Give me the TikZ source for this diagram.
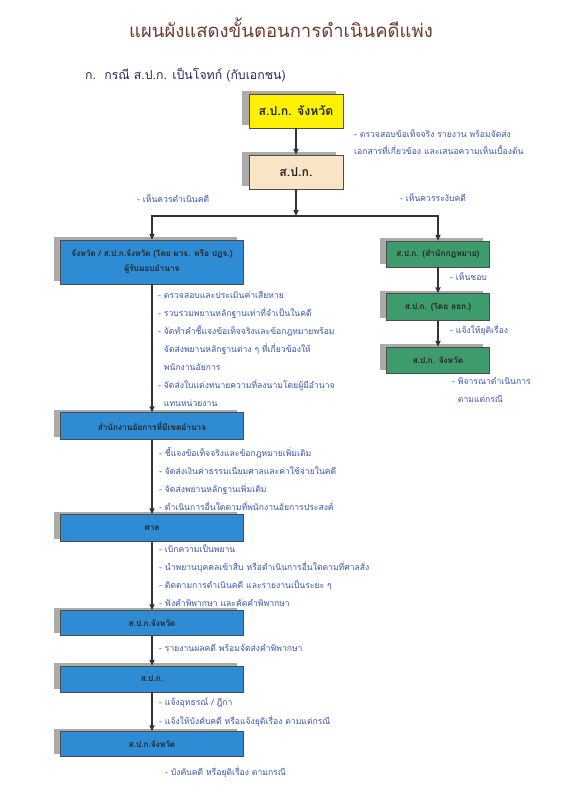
\documentclass[tikz,border=0pt]{standalone}
\usepackage{fontspec}
\newfontfamily\thai[Script=Thai]{Loma}
\usetikzlibrary{arrows.meta,shadows}

\definecolor{boxblue}{RGB}{45,140,212}
\definecolor{boxgreen}{RGB}{62,156,108}
\definecolor{boxbeige}{RGB}{250,228,198}
\definecolor{notetext}{RGB}{55,85,178}
\definecolor{titlebrown}{RGB}{112,58,48}
\definecolor{subnavy}{RGB}{38,38,105}

\begin{document}
\begin{tikzpicture}[
  x=1pt,y=1pt,
  font=\thai,
  box/.style={draw=black!70,fill=boxblue,text=black!85,
    minimum width=183pt,minimum height=27pt,inner sep=2pt,align=center,
    font=\thai\bfseries\fontsize{8.3}{15}\selectfont,
    drop shadow={shadow xshift=-7pt,shadow yshift=3pt,opacity=1,fill=black!33}},
  greenbox/.style={box,fill=boxgreen,minimum width=103pt,minimum height=26pt},
  topbox/.style={box,minimum width=94pt,minimum height=34pt,
    font=\thai\bfseries\fontsize{12.3}{14}\selectfont},
  note/.style={anchor=north west,inner sep=0pt,align=left,text=notetext,
    font=\thai\fontsize{8.6}{18}\selectfont},
  arr/.style={-{Triangle[length=6pt,width=5pt]},line width=1.5pt,draw=black!80}
]
\useasboundingbox (0,0) rectangle (572,-790);

% heading
\node[text=titlebrown,font=\thai\fontsize{18.5}{22}\selectfont] (title) at (281,-28)
  {แผนผังแสดงขั้นตอนการดำเนินคดีแพ่ง};
\node[anchor=west,inner sep=0pt,text=subnavy,font=\thai\fontsize{12.3}{14}\selectfont]
  (case) at (85,-75) {ก.\ \ กรณี ส.ป.ก. เป็นโจทก์ (กับเอกชน)};

% top of the chart
\node[topbox,fill=yellow] (prov) at (296,-111) {ส.ป.ก. จังหวัด};
\node[topbox,fill=boxbeige] (alro) at (296,-172) {ส.ป.ก.};
\node[note] (n1) at (354,-129)
  {- ตรวจสอบข้อเท็จจริง รายงาน พร้อมจัดส่ง\\[-1pt]
   เอกสารที่เกี่ยวข้อง และเสนอความเห็นเบื้องต้น};
\coordinate (split) at (296,-216);
\node[note] (sue) at (137,-194) {- เห็นควรดำเนินคดี};
\node[note] (stop) at (400,-193) {- เห็นควรระงับคดี};

% left branch
\node[box,minimum height=44pt] (agent) at (152,-262)
  {จังหวัด / ส.ป.ก.จังหวัด (โดย ผวจ. หรือ ปฏจ.)\\ผู้รับมอบอำนาจ};
\node[note] (n2) at (158,-291)
  {- ตรวจสอบและประเมินค่าเสียหาย\\
   - รวบรวมพยานหลักฐานเท่าที่จำเป็นในคดี\\
   - จัดทำคำชี้แจงข้อเท็จจริงและข้อกฎหมายพร้อม\\
   \phantom{- }จัดส่งพยานหลักฐานต่าง ๆ ที่เกี่ยวข้องให้\\
   \phantom{- }พนักงานอัยการ\\
   - จัดส่งใบแต่งทนายความที่ลงนามโดยผู้มีอำนาจ\\
   \phantom{- }แทนหน่วยงาน};
\node[box] (attorney) at (152,-426) {สำนักงานอัยการที่มีเขตอำนาจ};
\node[note] (n3) at (159,-447)
  {- ชี้แจงข้อเท็จจริงและข้อกฎหมายเพิ่มเติม\\
   - จัดส่งเงินค่าธรรมเนียมศาลและค่าใช้จ่ายในคดี\\
   - จัดส่งพยานหลักฐานเพิ่มเติม\\
   - ดำเนินการอื่นใดตามที่พนักงานอัยการประสงค์};
\node[box] (court) at (152,-528) {ศาล};
\node[note] (n4) at (159,-544)
  {- เบิกความเป็นพยาน\\
   - นำพยานบุคคลเข้าสืบ หรือดำเนินการอื่นใดตามที่ศาลสั่ง\\
   - ติดตามการดำเนินคดี และรายงานเป็นระยะ ๆ\\
   - ฟังคำพิพากษา และคัดคำพิพากษา};
\node[box,minimum height=25pt] (provA) at (152,-623) {ส.ป.ก.จังหวัด};
\node[note] (n5) at (159,-644) {- รายงานผลคดี พร้อมจัดส่งคำพิพากษา};
\node[box,minimum height=26pt] (alroB) at (152,-679) {ส.ป.ก.};
\node[note] (n6) at (159,-698)
  {- แจ้งอุทธรณ์ / ฎีกา\\[1pt]
   - แจ้งให้บังคับคดี หรือแจ้งยุติเรื่อง ตามแต่กรณี};
\node[box,minimum height=25pt] (provB) at (152,-744) {ส.ป.ก.จังหวัด};
\node[note] (n7) at (165,-766) {- บังคับคดี หรือยุติเรื่อง ตามกรณี};

% right branch
\node[greenbox] (legal) at (438,-254) {ส.ป.ก. (สำนักกฎหมาย)};
\node[note] (g1) at (450,-272) {- เห็นชอบ};
\node[greenbox,minimum height=27pt] (sec) at (438,-307) {ส.ป.ก. (โดย ลธก.)};
\node[note] (g2) at (450,-324) {- แจ้งให้ยุติเรื่อง};
\node[greenbox] (provC) at (438,-360) {ส.ป.ก. จังหวัด};
\node[note] (g3) at (452,-377) {- พิจารณาดำเนินการ\\\phantom{- }ตามแต่กรณี};

% connectors
\draw[arr] (prov) -- (alro);
\draw[arr] (alro) -- (split);
\draw[arr] (split) -| (agent);
\draw[arr] (split) -| (legal);
\draw[arr] (agent) -- (attorney);
\draw[arr] (attorney) -- (court);
\draw[arr] (court) -- (provA);
\draw[arr] (provA) -- (alroB);
\draw[arr] (alroB) -- (provB);
\draw[arr] (legal) -- (sec);
\draw[arr] (sec) -- (provC);
\end{tikzpicture}
\end{document}
